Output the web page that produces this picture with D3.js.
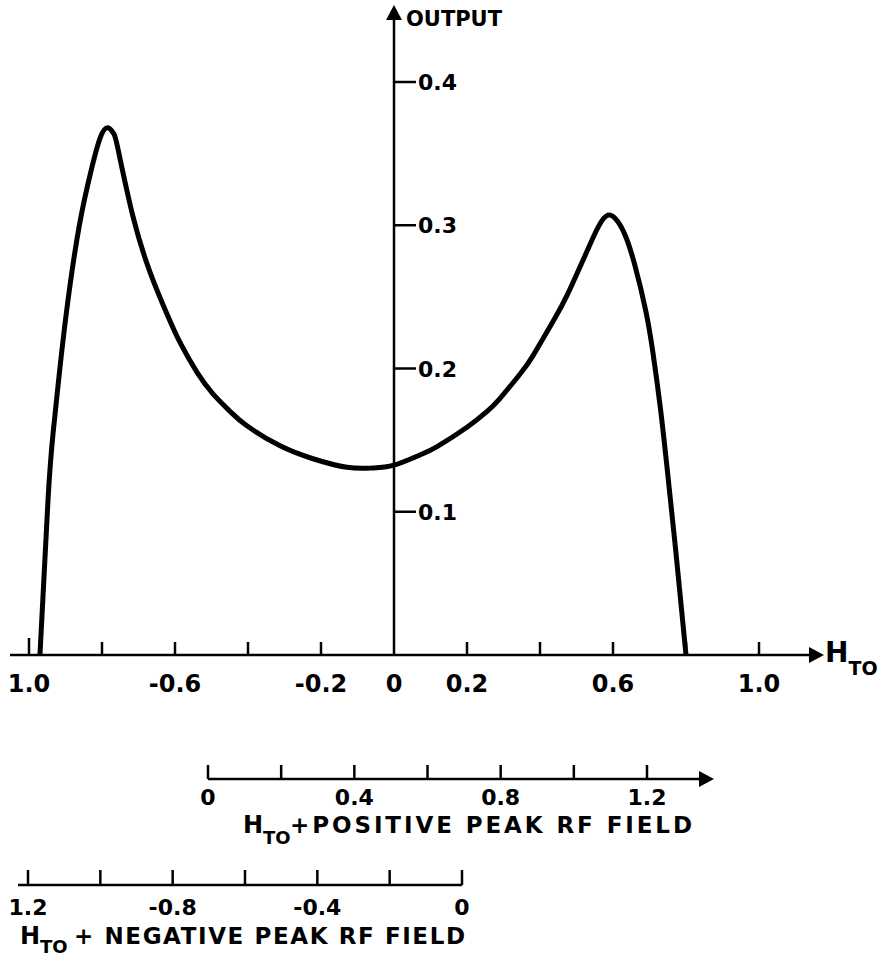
<!DOCTYPE html>
<html>
<head>
<meta charset="utf-8">
<script src="https://cdn.jsdelivr.net/npm/d3@7"></script>
<style>
    body { margin: 0; background: #fff; }
    svg { display: block; }
    text { font-family: "DejaVu Sans", sans-serif; font-weight: bold; fill: #000; }
</style>
</head>
<body>
<div id="chart"></div>
<script>
// Curve: H_TO vs output
const hto = [-0.97, -0.948, -0.934, -0.915, -0.893, -0.862, -0.83, -0.805, -0.784, -0.768,
    -0.756, -0.715, -0.668, -0.622, -0.586, -0.54, -0.496, -0.449, -0.403, -0.312, -0.222,
    -0.129, -0.06, 0.0, 0.071, 0.118, 0.2, 0.255, 0.29, 0.345, 0.381, 0.436, 0.474, 0.529,
    0.56, 0.586, 0.612, 0.635, 0.66, 0.69, 0.71, 0.73, 0.748, 0.775, 0.80];
const output = [0.0, 0.108, 0.155, 0.201, 0.248, 0.300, 0.338, 0.361, 0.368, 0.364,
    0.353, 0.306, 0.267, 0.238, 0.218, 0.1975, 0.1823, 0.170, 0.160, 0.146, 0.137,
    0.131, 0.1305, 0.1325, 0.1396, 0.1455, 0.159, 0.170, 0.179, 0.196, 0.209, 0.233, 0.251, 0.282,
    0.299, 0.307, 0.303, 0.292, 0.272, 0.240, 0.210, 0.172, 0.131, 0.065, 0.0];

// Main axis ticks and labels
const mainTicks = [-1.0, -0.8, -0.6, -0.4, -0.2, 0.2, 0.4, 0.6, 0.8, 1.0];
const mainLabels = [[-1.0, "1.0"], [-0.6, "-0.6"], [-0.2, "-0.2"], [0, "0"], [0.2, "0.2"], [0.6, "0.6"], [1.0, "1.0"]];
const outTicks = [0.1, 0.2, 0.3, 0.4];

// Lower scales
const posTicks = [0, 0.2, 0.4, 0.6, 0.8, 1.0, 1.2];
const posLabels = [[0, "0"], [0.4, "0.4"], [0.8, "0.8"], [1.2, "1.2"]];
const negTicks = [-1.2, -1.0, -0.8, -0.6, -0.4, -0.2, 0];
const negLabels = [[-1.2, "1.2"], [-0.8, "-0.8"], [-0.4, "-0.4"], [0, "0"]];

const width = 883, height = 966;

const svg = d3.select("#chart").append("svg")
    .attr("width", width)
    .attr("height", height);

const x = d3.scaleLinear().domain([-1, 1]).range([29, 759]);
const y = d3.scaleLinear().domain([0, 0.4]).range([655, 82]);

const axisY = y(0);
const zeroX = x(0);

// filled arrow head, tip at (px, py)
function arrow(px, py, dir) {
    const s = 8, l = 15;
    let pts;
    if (dir === "right") pts = [[px, py], [px - l, py - s], [px - l, py + s]];
    else pts = [[px, py], [px - s, py + l], [px + s, py + l]];
    svg.append("path")
        .attr("d", d3.line()(pts) + "Z")
        .attr("fill", "#000");
}

// main horizontal axis
svg.append("line")
    .attr("x1", 10).attr("x2", 815)
    .attr("y1", axisY).attr("y2", axisY)
    .attr("stroke", "#000").attr("stroke-width", 2.5);
arrow(824, axisY, "right");

svg.selectAll(".mtick")
    .data(mainTicks)
    .enter().append("line")
    .attr("class", "mtick")
    .attr("x1", d => x(d)).attr("x2", d => x(d))
    .attr("y1", axisY).attr("y2", d => d === -1.0 ? axisY - 17 : axisY - 13)
    .attr("stroke", "#000").attr("stroke-width", 2.5);

svg.selectAll(".mlabel")
    .data(mainLabels)
    .enter().append("text")
    .attr("class", "mlabel")
    .attr("x", d => x(d[0]))
    .attr("y", axisY + 37)
    .attr("text-anchor", "middle")
    .attr("font-size", 24)
    .text(d => d[1]);

const htoLabel = svg.append("text")
    .attr("x", 825).attr("y", axisY + 7)
    .attr("font-size", 28);
htoLabel.append("tspan").text("H");
htoLabel.append("tspan").attr("font-size", 19).attr("dy", 13).text("TO");

// vertical OUTPUT axis
svg.append("line")
    .attr("x1", zeroX).attr("x2", zeroX)
    .attr("y1", 18).attr("y2", axisY)
    .attr("stroke", "#000").attr("stroke-width", 2.5);
arrow(zeroX, 5, "up");

svg.append("text")
    .attr("x", 406).attr("y", 26)
    .attr("font-size", 21)
    .text("OUTPUT");

svg.selectAll(".otick")
    .data(outTicks)
    .enter().append("line")
    .attr("class", "otick")
    .attr("x1", zeroX).attr("x2", zeroX + 22)
    .attr("y1", d => y(d)).attr("y2", d => y(d))
    .attr("stroke", "#000").attr("stroke-width", 2.5);

svg.selectAll(".olabel")
    .data(outTicks)
    .enter().append("text")
    .attr("class", "olabel")
    .attr("x", zeroX + 24)
    .attr("y", d => y(d) + 8)
    .attr("font-size", 22)
    .text(d => d.toFixed(1));

// the curve
const pts = hto.map((h, i) => [h, output[i]]);
svg.append("path")
    .datum(pts)
    .attr("fill", "none")
    .attr("stroke", "#000")
    .attr("stroke-width", 5)
    .attr("stroke-linejoin", "round")
    .attr("d", d3.line()
        .x(d => x(d[0]))
        .y(d => y(d[1]))
        .curve(d3.curveNatural));

// H_TO + positive peak RF field scale
const xp = d3.scaleLinear().domain([0, 1.2]).range([208, 647]);
const posY = 779;
svg.append("line")
    .attr("x1", xp(0)).attr("x2", 704)
    .attr("y1", posY).attr("y2", posY)
    .attr("stroke", "#000").attr("stroke-width", 2.5);
arrow(714, posY, "right");
svg.selectAll(".ptick")
    .data(posTicks)
    .enter().append("line")
    .attr("class", "ptick")
    .attr("x1", d => xp(d)).attr("x2", d => xp(d))
    .attr("y1", posY).attr("y2", posY - 14)
    .attr("stroke", "#000").attr("stroke-width", 2.5);
svg.selectAll(".plabel")
    .data(posLabels)
    .enter().append("text")
    .attr("class", "plabel")
    .attr("x", d => xp(d[0]))
    .attr("y", posY + 26)
    .attr("text-anchor", "middle")
    .attr("font-size", 22)
    .text(d => d[1]);

const posTitle = svg.append("text")
    .attr("x", 243).attr("y", posY + 54)
    .attr("font-size", 24);
posTitle.append("tspan").text("H");
posTitle.append("tspan").attr("font-size", 18).attr("dy", 11).text("TO");
svg.append("text")
    .attr("x", 290).attr("y", posY + 54)
    .attr("font-size", 23)
    .attr("textLength", 402)
    .attr("lengthAdjust", "spacing")
    .text("+POSITIVE PEAK  RF FIELD");

// H_TO + negative peak RF field scale
const xn = d3.scaleLinear().domain([-1.2, 0]).range([28, 462]);
const negY = 885;
svg.append("line")
    .attr("x1", 18).attr("x2", xn(0))
    .attr("y1", negY).attr("y2", negY)
    .attr("stroke", "#000").attr("stroke-width", 2.5);
svg.selectAll(".ntick")
    .data(negTicks)
    .enter().append("line")
    .attr("class", "ntick")
    .attr("x1", d => xn(d)).attr("x2", d => xn(d))
    .attr("y1", negY).attr("y2", negY - 15)
    .attr("stroke", "#000").attr("stroke-width", 2.5);
svg.selectAll(".nlabel")
    .data(negLabels)
    .enter().append("text")
    .attr("class", "nlabel")
    .attr("x", d => xn(d[0]))
    .attr("y", negY + 30)
    .attr("text-anchor", "middle")
    .attr("font-size", 22)
    .text(d => d[1]);

const negTitle = svg.append("text")
    .attr("x", 20).attr("y", negY + 59)
    .attr("font-size", 24);
negTitle.append("tspan").text("H");
negTitle.append("tspan").attr("font-size", 18).attr("dy", 9).text("TO");
svg.append("text")
    .attr("x", 74).attr("y", negY + 59)
    .attr("font-size", 23)
    .attr("textLength", 391)
    .attr("lengthAdjust", "spacing")
    .text("+ NEGATIVE  PEAK  RF FIELD");
</script>
</body>
</html>
